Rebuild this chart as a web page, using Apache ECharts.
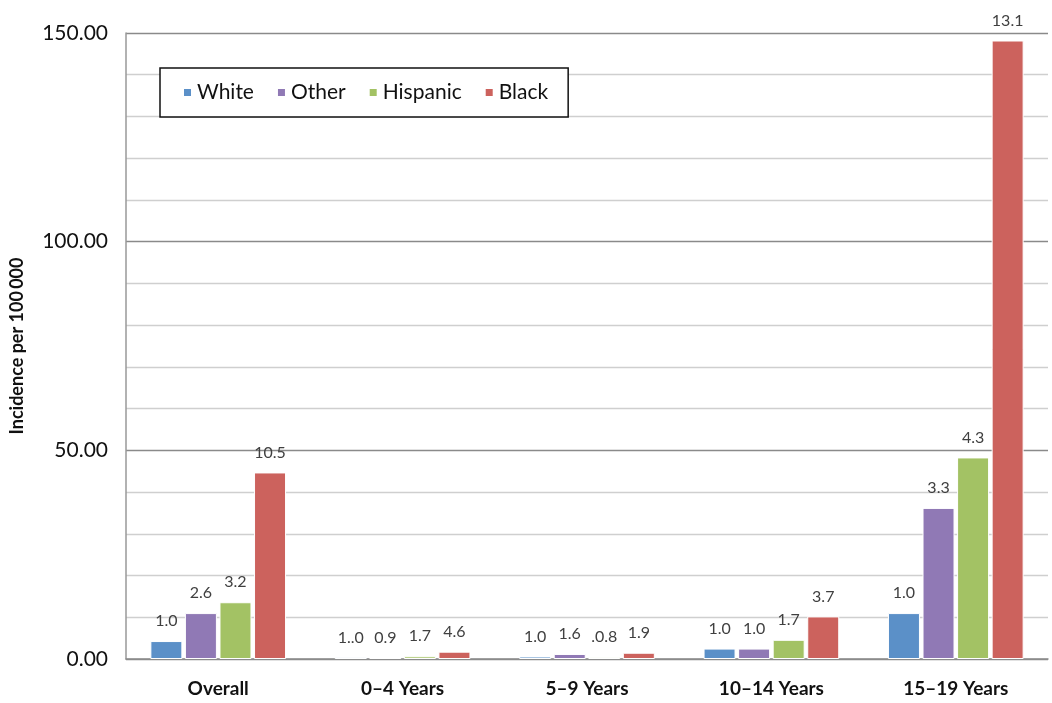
<!DOCTYPE html>
<html><head><meta charset="utf-8">
<script src="https://cdn.jsdelivr.net/npm/echarts@6/dist/echarts.min.js"></script>
<style>html,body{margin:0;padding:0;background:#fff}#c{width:1052px;height:703px}</style>
</head><body><div id="c"></div>
<script>
const categories = ['Overall', '0\u20134 Years', '5\u20139 Years', '10\u201314 Years', '15\u201319 Years'];
const seriesNames = ['White', 'Other', 'Hispanic', 'Black'];
const whiteVals = [4.3, 0.38, 0.6, 2.5, 11.0];
const otherVals = [11.0, 0.34, 1.2, 2.5, 36.2];
const hispanicVals = [13.6, 0.65, 0.45, 4.6, 48.3];
const blackVals = [44.7, 1.75, 1.5, 10.2, 148.2];
const whiteLabels = ['1.0', '1..0', '1.0', '1.0', '1.0'];
const otherLabels = ['2.6', '0.9', '1.6', '1.0', '3.3'];
const hispanicLabels = ['3.2', '1.7', '.0.8', '1.7', '4.3'];
const blackLabels = ['10.5', '4.6', '1.9', '3.7', '13.1'];
const yTicks = [0, 50, 100, 150];

const colors = ['#5b90c8', '#9079b5', '#a3c264', '#cc625d'];
const vals = [whiteVals, otherVals, hispanicVals, blackVals];
const labs = [whiteLabels, otherLabels, hispanicLabels, blackLabels];
const FONT = 'Lato, "Open Sans", sans-serif';

const chart = echarts.init(document.getElementById('c'));
chart.setOption({
  animation: false,
  grid: {left: 126, right: 4, top: 33, bottom: 44, containLabel: false},
  legend: {
    left: 160, top: 68,
    data: seriesNames,
    icon: 'rect', itemWidth: 9, itemHeight: 9, itemGap: 22,
    padding: [14, 20, 14, 22],
    borderColor: '#111', borderWidth: 1.5, backgroundColor: '#fff',
    textStyle: {fontFamily: FONT, fontSize: 21, color: '#111'}
  },
  xAxis: {
    type: 'category', data: categories,
    axisTick: {show: false},
    axisLine: {lineStyle: {color: '#8c8c8c', width: 1.5}},
    axisLabel: {fontFamily: FONT, fontSize: 19, fontWeight: 'bold', color: '#111', margin: 20}
  },
  yAxis: {
    type: 'value', min: 0, max: 150, interval: 10,
    name: 'Incidence per 100\u2009000', nameLocation: 'middle', nameGap: 100,
    nameTextStyle: {fontFamily: FONT, fontSize: 18, fontWeight: 'bold', color: '#111'},
    axisLine: {show: true, lineStyle: {color: '#999', width: 1.5}},
    axisTick: {show: false},
    axisLabel: {
      fontFamily: FONT, fontSize: 21, color: '#111', margin: 18,
      formatter: v => yTicks.indexOf(v) >= 0 ? v.toFixed(2) : ''
    },
    splitLine: {lineStyle: {color: ['#8a8a8a', '#cfcfcf', '#cfcfcf', '#cfcfcf', '#cfcfcf'], width: 1.3}}
  },
  series: seriesNames.map((n, i) => ({
    name: n, type: 'bar', data: vals[i],
    barWidth: 32, barGap: '8%',
    itemStyle: {color: colors[i], borderColor: '#fff', borderWidth: 1},
    label: {
      show: true, position: 'top', distance: 12,
      fontFamily: FONT, fontSize: 16, color: '#404040',
      formatter: p => labs[i][p.dataIndex]
    }
  }))
});
</script></body></html>
